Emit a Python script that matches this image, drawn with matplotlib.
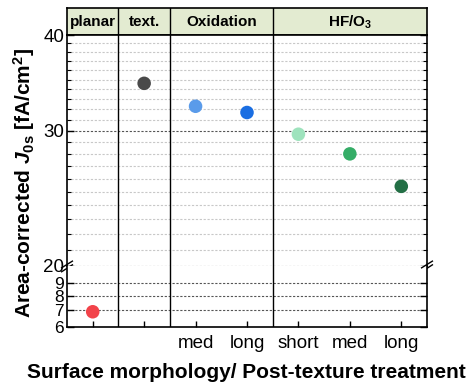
import numpy as np
import matplotlib
matplotlib.use('Agg')
import matplotlib.pyplot as plt
from matplotlib.ticker import FixedLocator, NullFormatter, NullLocator

plt.rcParams['font.family'] = ['Liberation Sans', 'DejaVu Sans']
plt.rcParams['mathtext.fontset'] = 'custom'
plt.rcParams['mathtext.rm'] = 'Liberation Sans'
plt.rcParams['mathtext.it'] = 'Liberation Sans:italic:bold'
plt.rcParams['mathtext.bf'] = 'Liberation Sans:bold'

# data
tick_labels = ['', '', 'med', 'long', 'short', 'med', 'long']
j0s = [6.9, 34.6, 32.3, 31.7, 29.7, 28.0, 25.4]
colors = ['#f2434a', '#4a4a4a', '#5a9bea', '#1a6ee2', '#9ee3bd', '#35ad67', '#236f45']
groups = ['planar', 'text.', 'Oxidation', 'HF/O$_\\mathbf{3}$']
group_edges = [-0.5, 0.5, 1.5, 3.5, 6.5]

x = np.arange(len(j0s))
W, H = 472, 385
fig = plt.figure(figsize=(W / 100, H / 100), dpi=100)

left, right = 67 / W, 427 / W
def rect(top_px, bot_px):
    return [left, 1 - bot_px / H, right - left, (bot_px - top_px) / H]

ax_h = fig.add_axes(rect(8, 35))
ax_t = fig.add_axes(rect(35, 266))
ax_b = fig.add_axes(rect(266, 327))

# header strip
ax_h.set_facecolor('#e3ebd1')
ax_h.set_xlim(-0.5, 6.5)
ax_h.set_ylim(0, 1)
ax_h.xaxis.set_major_locator(NullLocator())
ax_h.yaxis.set_major_locator(NullLocator())
for i, g in enumerate(groups):
    c = (group_edges[i] + group_edges[i + 1]) / 2
    ax_h.text(c, 0.47, g, ha='center', va='center', fontsize=11, fontweight='bold')
for e in group_edges[1:-1]:
    ax_h.axvline(e, color='black', lw=1)
for s in ax_h.spines.values():
    s.set_linewidth(1.2)

for ax in (ax_t, ax_b):
    ax.set_xlim(-0.5, 6.5)
    ax.set_yscale('log')
    for e in group_edges[1:-1]:
        ax.axvline(e, color='black', lw=1, zorder=1)
    ax.scatter(x, j0s, s=95, c=colors, zorder=3, linewidths=0)
    ax.tick_params(direction='in', which='both', right=True, labelsize=13.5)
    ax.tick_params(which='major', length=5, width=1, pad=2)
    ax.tick_params(which='minor', length=3, width=0.8)
    for s in ax.spines.values():
        s.set_linewidth(1.2)

# upper part
ax_t.set_ylim(20, 40)
ax_t.set_yticks([20, 30, 40], ['20', '30', '40'])
ax_t.yaxis.set_minor_locator(FixedLocator([v for v in range(21, 40) if v != 30]))
ax_t.yaxis.set_minor_formatter(NullFormatter())
ax_t.xaxis.set_major_locator(NullLocator())
ax_t.spines['bottom'].set_visible(False)
for v in range(20, 40):
    major = v in (20, 30)
    ax_t.axhline(v, color='#555555' if major else '#c8c8c8', lw=0.8,
                 ls=(0, (2, 1.5)), zorder=0)

# lower part
ax_b.set_ylim(6, 10.5)
ax_b.set_yticks([6, 7, 8, 9], ['6', '7', '8', '9'])
ax_b.yaxis.set_minor_locator(NullLocator())
ax_b.tick_params(axis='y', labelsize=12.5)
ax_b.spines['top'].set_visible(False)
ax_b.set_xticks(x, tick_labels)
ax_b.tick_params(axis='x', length=4, pad=6)
for v in [7, 8, 9]:
    ax_b.axhline(v, color='#555555', lw=0.8, ls=(0, (2, 1.5)), zorder=0)

# break marks
for xa in (0, 1):
    ax_t.plot([xa - 0.015, xa + 0.015], [-0.025, 0.005], transform=ax_t.transAxes,
              color='black', lw=1, clip_on=False)
    ax_b.plot([xa - 0.015, xa + 0.015], [0.97, 1.08], transform=ax_b.transAxes,
              color='black', lw=1, clip_on=False)

fig.text(24 / W, 1 - 183 / H, 'Area-corrected $J_{\\mathbf{0s}}$ [fA/cm$^\\mathbf{2}$]',
         rotation=90, ha='center', va='center', fontsize=15, fontweight='bold')
fig.text(246 / W, 1 - 373 / H, 'Surface morphology/ Post-texture treatment',
         ha='center', va='center', fontsize=15, fontweight='bold')

fig.savefig('out.png', dpi=100)
